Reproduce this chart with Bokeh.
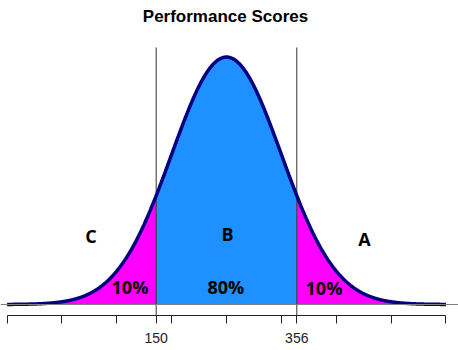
import numpy as np
from bokeh.plotting import figure
from bokeh.models import LinearAxis, FixedTicker, Span, Label, Range1d
from bokeh.core.properties import value
from bokeh.embed import file_html
from bokeh.resources import INLINE

# ---- data ----
title_text = "Performance Scores"
cutoffs = [150, 356]           # 10% / 90% cut points
tail_share = 0.10
mean_score = (cutoffs[0] + cutoffs[1]) / 2.0
z90 = 1.2815515655446004
sd_score = (cutoffs[1] - cutoffs[0]) / 2.0 / z90
grade_letters = ["C", "B", "A"]
grade_letter_x = [54.5, 254.5, 455.0]
grade_letter_y = [0.00137, 0.00141, 0.00131]
share_labels = ["10%", "80%", "10%"]
share_label_x = [111.6, 252.0, 395.8]
share_label_y = [0.00035, 0.00035, 0.00033]
sd_steps = [-4, -3, -2, -1, 0, 1, 2, 3, 4]
cut_line_top = 0.005155

# density curve of the normal distribution over mean +/- 4 sd
def density(x):
    return np.exp(-0.5 * ((x - mean_score) / sd_score) ** 2) / (sd_score * np.sqrt(2 * np.pi))

xs = np.linspace(mean_score - 4 * sd_score, mean_score + 4 * sd_score, 801)
ys = density(xs)

p = figure(width=458, height=350, output_backend="svg", toolbar_location=None,
           x_axis_type=None, y_axis_type=None,
           x_range=Range1d(-78.1, 592.9), y_range=Range1d(-0.0002206, 0.006098),
           min_border_left=0, min_border_right=0, min_border_top=0, min_border_bottom=35)
p.outline_line_color = None
p.grid.visible = False
p.background_fill_color = "white"
p.border_fill_color = "white"

def seg(lo, hi):
    inner = xs[(xs > lo) & (xs < hi)]
    x = np.concatenate([[lo], inner, [hi]])
    return x, density(x)

xl, yl = seg(xs[0], cutoffs[0])
xm, ym = seg(cutoffs[0], cutoffs[1])
xr, yr = seg(cutoffs[1], xs[-1])
p.varea(x=xl, y1=0, y2=yl, fill_color="#FF00FF")
p.varea(x=xr, y1=0, y2=yr, fill_color="#FF00FF")
p.varea(x=xm, y1=0, y2=ym, fill_color="#1E90FF")

p.add_layout(Span(location=0, dimension="width", line_color="#808080", line_width=1))
p.segment(x0=cutoffs, y0=[-0.0002206] * 2, x1=cutoffs, y1=[cut_line_top] * 2,
          line_color="#333333", line_width=1)

p.line(xs, ys, line_color="#000080", line_width=3.5)

p.text(x=grade_letter_x, y=grade_letter_y, text=grade_letters,
       text_font=value("Open Sans"), text_font_style="bold", text_font_size="18px",
       text_align="center", text_baseline="alphabetic", text_color="black")
p.text(x=share_label_x, y=share_label_y, text=share_labels,
       text_font=value("Open Sans"), text_font_style="bold", text_font_size="18px",
       text_align="center", text_baseline="alphabetic", text_color="black")

p.add_layout(Label(x=251.5, y=0.005777, text=title_text, text_font="Liberation Sans",
                   text_font_style="bold", text_font_size="17px", text_align="center",
                   text_baseline="alphabetic", text_color="black"))

minor = [mean_score + k * sd_score for k in sd_steps]
ax = LinearAxis(ticker=FixedTicker(ticks=cutoffs, minor_ticks=minor))
ax.bounds = (minor[0], minor[-1])
ax.axis_line_color = "#222222"
ax.major_tick_line_color = "#222222"
ax.minor_tick_line_color = "#222222"
ax.major_tick_in = 0
ax.major_tick_out = 8
ax.minor_tick_in = 0
ax.minor_tick_out = 8
ax.major_label_text_font = "Liberation Sans"
ax.major_label_text_font_size = "14px"
ax.major_label_text_color = "#222222"
ax.major_label_standoff = 9
p.add_layout(ax, "below")

open("out.html", "w").write(file_html(p, INLINE))
